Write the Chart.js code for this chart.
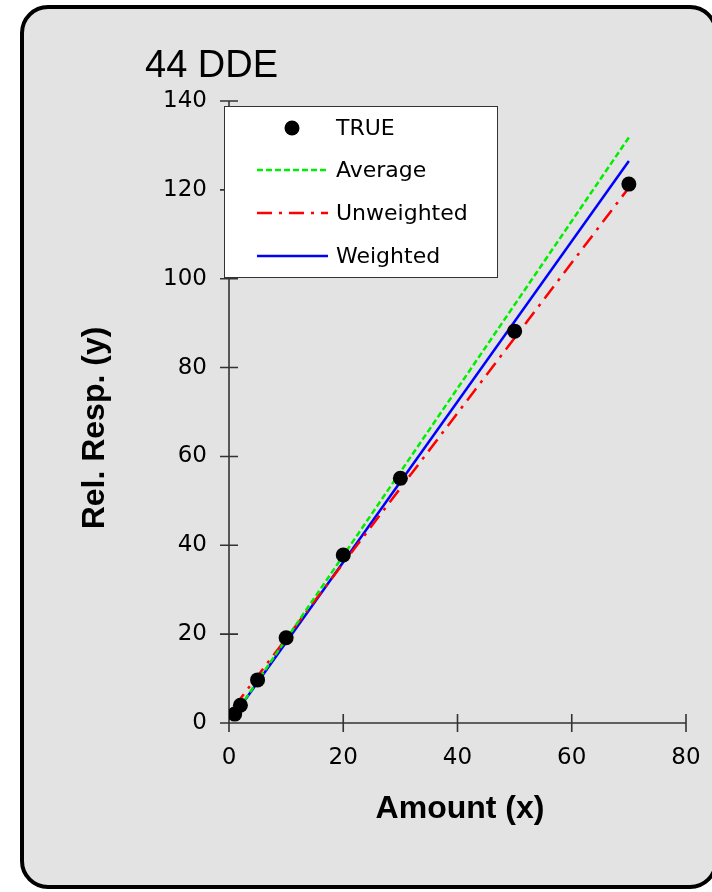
<!DOCTYPE html>
<html>
<head>
<meta charset="utf-8">
<title>44 DDE</title>
<script src="https://cdn.jsdelivr.net/npm/chart.js@4.4.1/dist/chart.umd.min.js"></script>
<style>
  html, body { margin: 0; padding: 0; background: #fff; }
  #wrap { width: 712px; height: 892px; }
</style>
</head>
<body>
<div id="wrap"><canvas id="chart" width="712" height="892"></canvas></div>
<script>
// calibration points
const amounts = [1, 2, 5, 10, 20, 30, 50, 70];
const trueResp = [2.0, 4.0, 9.7, 19.2, 37.8, 55.1, 88.2, 121.3];

// fitted lines, end points only
const fitX = [1, 70];
const averageY = [1.9, 131.8];
const unweightedY = [3.8, 120.5];
const weightedY = [1.9, 126.5];

const xTicks = [0, 20, 40, 60, 80];
const yTicks = [0, 20, 40, 60, 80, 100, 120, 140];

const chartTitle = '44 DDE';
const xTitle = 'Amount (x)';
const yTitle = 'Rel. Resp. (y)';

function pairs(xs, ys) {
    return xs.map(function (v, i) { return { x: v, y: ys[i] }; });
}

// rounded grey panel behind everything
const framePlugin = {
    id: 'frame',
    beforeDraw(chart) {
        const ctx = chart.ctx;
        const x0 = 22, y0 = 7, x1 = 716, y1 = 887, r = 26;
        ctx.save();
        ctx.fillStyle = '#fff';
        ctx.fillRect(0, 0, chart.width, chart.height);
        ctx.beginPath();
        ctx.moveTo(x0 + r, y0);
        ctx.arcTo(x1, y0, x1, y1, r);
        ctx.arcTo(x1, y1, x0, y1, r);
        ctx.arcTo(x0, y1, x0, y0, r);
        ctx.arcTo(x0, y0, x1, y0, r);
        ctx.closePath();
        ctx.fillStyle = '#e3e3e3';
        ctx.fill();
        ctx.lineWidth = 4;
        ctx.strokeStyle = '#000';
        ctx.stroke();
        ctx.restore();
    }
};

// axis lines with ticks crossing both sides, plus titles
const axesPlugin = {
    id: 'crossAxes',
    beforeDatasetsDraw(chart) {
        const ctx = chart.ctx;
        const a = chart.chartArea;
        const xs = chart.scales.x, ys = chart.scales.y;
        const t = 9;
        ctx.save();
        ctx.strokeStyle = '#333';
        ctx.lineWidth = 1.6;
        ctx.beginPath();
        ctx.moveTo(a.left, a.top);
        ctx.lineTo(a.left, a.bottom + t);
        ctx.moveTo(a.left - t, a.bottom);
        ctx.lineTo(a.right, a.bottom);
        ys.ticks.forEach(function (tk) {
            const py = ys.getPixelForValue(tk.value);
            ctx.moveTo(a.left - t, py);
            ctx.lineTo(a.left + t, py);
        });
        xs.ticks.forEach(function (tk) {
            const px = xs.getPixelForValue(tk.value);
            ctx.moveTo(px, a.bottom - t);
            ctx.lineTo(px, a.bottom + t);
        });
        ctx.stroke();

        ctx.fillStyle = '#000';
        ctx.font = '38px "Liberation Sans", Arial, sans-serif';
        ctx.textAlign = 'left';
        ctx.textBaseline = 'alphabetic';
        ctx.fillText(chartTitle, 145, 77);

        ctx.font = 'bold 32px "Liberation Sans", Arial, sans-serif';
        ctx.textAlign = 'center';
        ctx.fillText(xTitle, 460, 818);

        ctx.translate(104, 428);
        ctx.rotate(-Math.PI / 2);
        ctx.fillText(yTitle, 0, 0);
        ctx.restore();
    }
};

// boxed legend laid over the top-left of the plot
const boxLegendPlugin = {
    id: 'boxLegend',
    afterDraw(chart) {
        const ctx = chart.ctx;
        const rows = [128, 170, 213, 256];
        ctx.save();
        ctx.fillStyle = '#fff';
        ctx.fillRect(224.5, 106.5, 273, 171);
        ctx.strokeStyle = '#333';
        ctx.lineWidth = 1;
        ctx.strokeRect(224.5, 106.5, 273, 171);
        chart.data.datasets.forEach(function (ds, i) {
            const y = rows[i];
            if (ds.showLine === false) {
                ctx.fillStyle = ds.pointBackgroundColor;
                ctx.beginPath();
                ctx.arc(292, y, ds.pointRadius, 0, Math.PI * 2);
                ctx.fill();
            } else {
                ctx.strokeStyle = ds.borderColor;
                ctx.lineWidth = ds.borderWidth;
                ctx.setLineDash(ds.borderDash || []);
                ctx.beginPath();
                ctx.moveTo(257, y);
                ctx.lineTo(328, y);
                ctx.stroke();
                ctx.setLineDash([]);
            }
            ctx.fillStyle = '#000';
            ctx.font = '22px "DejaVu Sans", sans-serif';
            ctx.textAlign = 'left';
            ctx.textBaseline = 'middle';
            ctx.fillText(ds.label, 336, y + 1);
        });
        ctx.restore();
    }
};

const tickFont = { family: '"DejaVu Sans", sans-serif', size: 23 };

new Chart(document.getElementById('chart'), {
    type: 'scatter',
    data: {
        datasets: [
            {
                label: 'TRUE',
                data: pairs(amounts, trueResp),
                showLine: false,
                pointRadius: 7.5,
                pointBackgroundColor: '#000',
                pointBorderColor: '#000',
                pointBorderWidth: 0
            },
            {
                label: 'Average',
                data: pairs(fitX, averageY),
                showLine: true,
                borderColor: '#00ee00',
                borderWidth: 2.5,
                borderDash: [6, 3],
                pointRadius: 0
            },
            {
                label: 'Unweighted',
                data: pairs(fitX, unweightedY),
                showLine: true,
                borderColor: '#ff0000',
                borderWidth: 2.5,
                borderDash: [15, 7, 3, 7],
                pointRadius: 0
            },
            {
                label: 'Weighted',
                data: pairs(fitX, weightedY),
                showLine: true,
                borderColor: '#0000ff',
                borderWidth: 2.5,
                pointRadius: 0
            }
        ]
    },
    options: {
        responsive: false,
        animation: false,
        devicePixelRatio: 1,
        layout: { padding: { top: 101, right: 26, left: 0, bottom: 0 } },
        plugins: {
            legend: { display: false },
            tooltip: { enabled: false }
        },
        scales: {
            x: {
                type: 'linear',
                min: xTicks[0],
                max: xTicks[xTicks.length - 1],
                afterBuildTicks: function (s) { s.ticks = xTicks.map(function (v) { return { value: v }; }); },
                // fixed height, and don't let the end labels push the plot inward
                afterFit: function (s) { s.height = 169; s.paddingLeft = 0; s.paddingRight = 0; },
                grid: { display: false, drawTicks: false },
                border: { display: false },
                ticks: { font: tickFont, color: '#000', padding: 21, maxRotation: 0 }
            },
            y: {
                type: 'linear',
                min: yTicks[0],
                max: yTicks[yTicks.length - 1],
                afterBuildTicks: function (s) { s.ticks = yTicks.map(function (v) { return { value: v }; }); },
                afterFit: function (s) { s.width = 229; },
                grid: { display: false, drawTicks: false },
                border: { display: false },
                ticks: { font: tickFont, color: '#000', padding: 22 }
            }
        }
    },
    plugins: [framePlugin, axesPlugin, boxLegendPlugin]
});
</script>
</body>
</html>
